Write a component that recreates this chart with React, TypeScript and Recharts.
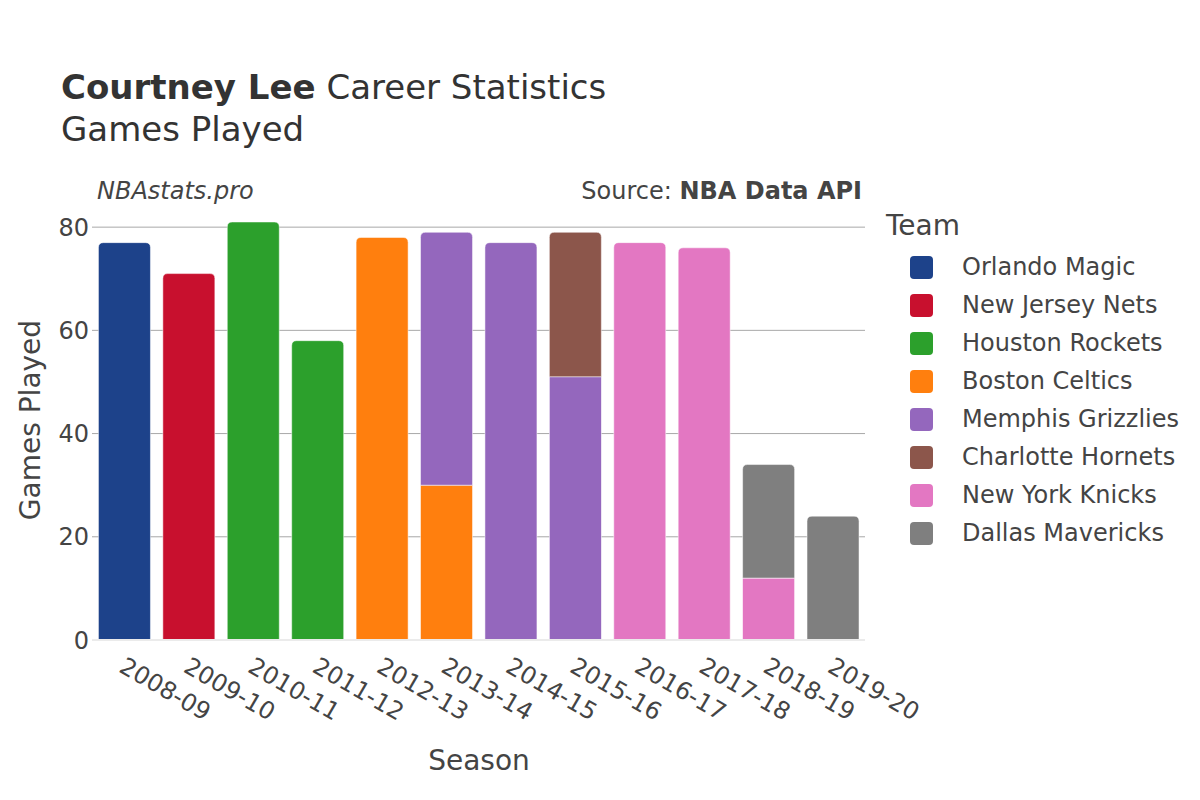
import { Bar, BarChart, CartesianGrid, XAxis, YAxis } from 'recharts';

const seasons = ['2008-09', '2009-10', '2010-11', '2011-12', '2012-13', '2013-14', '2014-15', '2015-16', '2016-17', '2017-18', '2018-19', '2019-20'];

const orlandoMagic = [77, 0, 0, 0, 0, 0, 0, 0, 0, 0, 0, 0];
const newJerseyNets = [0, 71, 0, 0, 0, 0, 0, 0, 0, 0, 0, 0];
const houstonRockets = [0, 0, 81, 58, 0, 0, 0, 0, 0, 0, 0, 0];
const bostonCeltics = [0, 0, 0, 0, 78, 30, 0, 0, 0, 0, 0, 0];
const memphisGrizzlies = [0, 0, 0, 0, 0, 49, 77, 51, 0, 0, 0, 0];
const charlotteHornets = [0, 0, 0, 0, 0, 0, 0, 28, 0, 0, 0, 0];
const newYorkKnicks = [0, 0, 0, 0, 0, 0, 0, 0, 77, 76, 12, 0];
const dallasMavericks = [0, 0, 0, 0, 0, 0, 0, 0, 0, 0, 22, 24];

const yTicks = [0, 20, 40, 60, 80];
const gridValues = [20, 40, 60, 80];

const teams = [
  { key: 'orl', name: 'Orlando Magic', color: '#1d428a', values: orlandoMagic },
  { key: 'njn', name: 'New Jersey Nets', color: '#c8102e', values: newJerseyNets },
  { key: 'hou', name: 'Houston Rockets', color: '#2ca02c', values: houstonRockets },
  { key: 'bos', name: 'Boston Celtics', color: '#ff7f0e', values: bostonCeltics },
  { key: 'mem', name: 'Memphis Grizzlies', color: '#9467bd', values: memphisGrizzlies },
  { key: 'cha', name: 'Charlotte Hornets', color: '#8c564b', values: charlotteHornets },
  { key: 'nyk', name: 'New York Knicks', color: '#e377c2', values: newYorkKnicks },
  { key: 'dal', name: 'Dallas Mavericks', color: '#7f7f7f', values: dallasMavericks },
];

const data = seasons.map((season, i) => {
  const row: Record<string, string | number> = { season };
  teams.forEach((t) => (row[t.key] = t.values[i]));
  return row;
});

// which team sits on top of each stack (gets the rounded corners)
const topKey = seasons.map((_, i) => {
  let k = '';
  teams.forEach((t) => {
    if (t.values[i] > 0) k = t.key;
  });
  return k;
});

function makeShape(key: string) {
  return (props: any) => {
    const { x, y, width, height, fill, index } = props;
    if (!height || height <= 0) return <g />;
    if (topKey[index] !== key) {
      return <rect x={x} y={y} width={width} height={height} fill={fill} stroke="#fff" strokeWidth={0.5} />;
    }
    const r = Math.min(5, height / 2);
    const d = `M${x},${y + height} L${x},${y + r} Q${x},${y} ${x + r},${y} L${x + width - r},${y} Q${x + width},${y} ${x + width},${y + r} L${x + width},${y + height} Z`;
    return <path d={d} fill={fill} stroke="#fff" strokeWidth={0.5} />;
  };
}

const SeasonTick = (props: any) => {
  const { x, y, payload } = props;
  const tx = x - 3;
  const ty = y + 17;
  return (
    <text x={tx} y={ty} transform={`rotate(30, ${tx}, ${ty})`} fontSize={24} fill="#444" textAnchor="start" dominantBaseline="middle">
      {payload.value}
    </text>
  );
};

export default function App() {
  return (
    <div style={{ position: 'absolute', left: 0, top: 0, width: 1200, height: 800, background: '#fff', fontFamily: 'DejaVu Sans', color: '#444' }}>
      <BarChart width={1200} height={800} data={data} margin={{ top: 200, right: 335, bottom: 0, left: 0 }} barCategoryGap="10%">
        <CartesianGrid vertical={false} stroke="#a8a8a8" horizontalValues={gridValues} />
        <XAxis dataKey="season" height={160} tick={<SeasonTick />} tickLine={false} axisLine={{ stroke: '#ebebeb', strokeWidth: 2 }} interval={0} />
        <YAxis width={92} domain={[0, 85.26]} ticks={yTicks} tickLine={false} axisLine={false} tickSize={0} tickMargin={3} tick={{ fontSize: 24, fill: '#444' }} />
        {teams.map((t) => (
          <Bar key={t.key} dataKey={t.key} name={t.name} stackId="a" fill={t.color} isAnimationActive={false} shape={makeShape(t.key)} />
        ))}
      </BarChart>

      <div style={{ position: 'absolute', left: 61, top: 67, fontSize: 34, color: '#333', whiteSpace: 'nowrap' }}>
        <b>Courtney Lee</b> Career Statistics
      </div>
      <div style={{ position: 'absolute', left: 61, top: 109, fontSize: 34, color: '#333', whiteSpace: 'nowrap' }}>Games Played</div>
      <div style={{ position: 'absolute', left: 97, top: 177, fontSize: 24, fontStyle: 'italic', color: '#444' }}>NBAstats.pro</div>
      <div style={{ position: 'absolute', right: 1200 - 862, top: 177, fontSize: 24, color: '#444', whiteSpace: 'nowrap' }}>
        Source: <b>NBA Data API</b>
      </div>
      <div style={{ position: 'absolute', left: 0, top: 420, width: 0, height: 0 }}>
        <div style={{ position: 'absolute', left: 30, top: 0, transform: 'translate(-50%, -50%) rotate(-90deg)', fontSize: 28, color: '#444', whiteSpace: 'nowrap' }}>Games Played</div>
      </div>
      <div style={{ position: 'absolute', left: 479, top: 760, transform: 'translate(-50%, -50%)', fontSize: 28, color: '#444', whiteSpace: 'nowrap' }}>Season</div>

      <div style={{ position: 'absolute', left: 886, top: 209, fontSize: 28, color: '#444' }}>Team</div>
      {teams.map((t, i) => (
        <div key={t.key} style={{ position: 'absolute', left: 910, top: 267 + i * 38 - 12, height: 24, display: 'flex', alignItems: 'center' }}>
          <div style={{ width: 23, height: 23, borderRadius: 4, background: t.color }} />
          <div style={{ marginLeft: 29, fontSize: 24, color: '#444', whiteSpace: 'nowrap' }}>{t.name}</div>
        </div>
      ))}
    </div>
  );
}
